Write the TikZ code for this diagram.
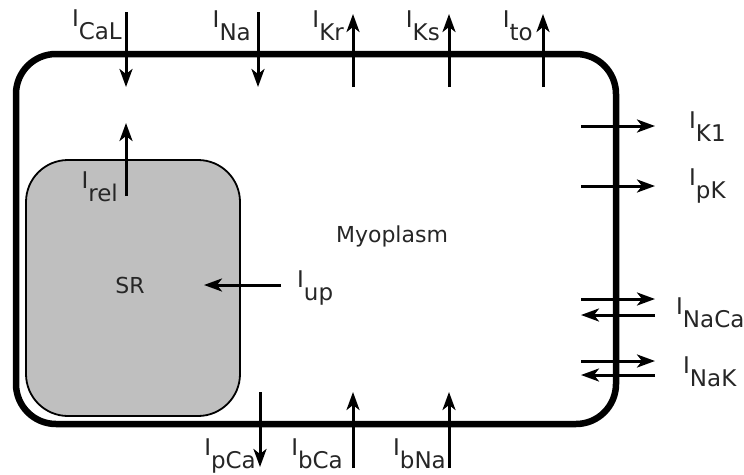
\documentclass[tikz,border=0pt]{standalone}
\usepackage{fontspec}
\setmainfont{DejaVu Sans}
\usetikzlibrary{arrows.meta}

% current label: I with a lowered subscript of the same size
\newcommand\curr[1]{I\raisebox{-0.56em}{#1}}

\begin{document}
\begin{tikzpicture}[x=1pt,y=1pt,
  font=\fontsize{22}{26}\selectfont,
  cell/.style={line width=6.5pt,rounded corners=40pt},
  srbox/.style={line width=1.8pt,fill=black!25,rounded corners=42pt},
  flux/.style={-{Stealth[length=18pt,width=13pt,inset=5pt]},line width=3pt},
  lab/.style={inner sep=0pt,text=black!85,font=\fontsize{23}{27}\selectfont}]
\useasboundingbox (0,0) rectangle (744,-474);

% compartments
\draw[srbox] (26,-160) rectangle (240,-416);
\draw[cell] (16,-54) rectangle (616,-424);
\node[lab,font=\fontsize{22}{26}\selectfont] (sr) at (130,-285) {SR};
\node[lab,font=\fontsize{22}{26}\selectfont] (myo) at (392,-236) {Myoplasm};

% top currents (inward = down, outward = up)
\foreach \n/\x/\d in {CaL/126/1,Na/258/1,Kr/353/0,Ks/449/0,to/543/0}{
  \ifnum\d=1
    \coordinate (\n-a) at (\x,-12); \coordinate (\n-b) at (\x,-87);
  \else
    \coordinate (\n-a) at (\x,-87); \coordinate (\n-b) at (\x,-14);
  \fi
  \draw[flux] (\n-a) -- (\n-b);
}
\node[lab,anchor=north east] (lCaL) at (122,-10) {\curr{CaL}};
\node[lab,anchor=north east] (lNa) at (251,-11) {\curr{Na}};
\node[lab,anchor=north east] (lKr) at (344,-11) {\curr{Kr}};
\node[lab,anchor=north east] (lKs) at (440,-11) {\curr{Ks}};
\node[lab,anchor=north east] (lto) at (533,-11) {\curr{to}};

% bottom currents
\coordinate (pCa-a) at (260,-392); \coordinate (pCa-b) at (260,-467);
\coordinate (bCa-a) at (353,-468); \coordinate (bCa-b) at (353,-392);
\coordinate (bNa-a) at (449,-468); \coordinate (bNa-b) at (449,-392);
\foreach \n in {pCa,bCa,bNa} \draw[flux] (\n-a) -- (\n-b);
\node[lab,anchor=north east] (lpCa) at (256,-439) {\curr{pCa}};
\node[lab,anchor=north east] (lbCa) at (343,-439) {\curr{bCa}};
\node[lab,anchor=north east] (lbNa) at (446,-439) {\curr{bNa}};

% right side currents
\foreach \n/\y in {K1/126,pK/186,NaCa/299,NaK/361}{
  \coordinate (\n-a) at (581,-\y); \coordinate (\n-b) at (655,-\y);
  \draw[flux] (\n-a) -- (\n-b);
}
\foreach \n/\y in {NaCa2/315,NaK2/375}{
  \coordinate (\n-a) at (655,-\y); \coordinate (\n-b) at (581,-\y);
  \draw[flux] (\n-a) -- (\n-b);
}
\node[lab,anchor=north west] (lK1) at (689,-112) {\curr{K1}};
\node[lab,anchor=north west] (lpK) at (689,-169) {\curr{pK}};
\node[lab,anchor=north west] (lNaCa) at (676,-298) {\curr{NaCa}};
\node[lab,anchor=north west] (lNaK) at (683,-357) {\curr{NaK}};

% SR fluxes
\coordinate (rel-a) at (126,-196); \coordinate (rel-b) at (126,-123);
\draw[flux] (rel-a) -- (rel-b);
\node[lab,anchor=north east] (lrel) at (118,-172) {\curr{rel}};
\coordinate (up-a) at (281,-285);
\draw[flux] (up-a) -- (sr.east -| 204,0);
\node[lab,anchor=north west] (lup) at (297,-271) {\curr{up}};
\end{tikzpicture}
\end{document}
